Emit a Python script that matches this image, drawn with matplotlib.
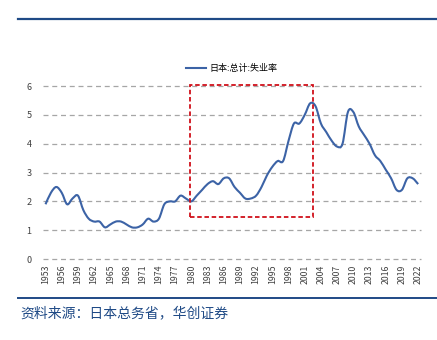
import numpy as np
import matplotlib.pyplot as plt
from matplotlib.path import Path
from matplotlib.patches import PathPatch, Rectangle
from matplotlib.lines import Line2D

plt.rcParams['font.family'] = ['Noto Sans CJK SC', 'DejaVu Sans']

years = list(range(1953, 2023))
rate = [1.9, 2.3, 2.5, 2.3, 1.9, 2.1, 2.2, 1.7, 1.4, 1.3,
        1.3, 1.1, 1.2, 1.3, 1.3, 1.2, 1.1, 1.1, 1.2, 1.4,
        1.3, 1.4, 1.9, 2.0, 2.0, 2.2, 2.1, 2.0, 2.2, 2.4,
        2.6, 2.7, 2.6, 2.8, 2.8, 2.5, 2.3, 2.1, 2.1, 2.2,
        2.5, 2.9, 3.2, 3.4, 3.4, 4.1, 4.7, 4.7, 5.0, 5.4,
        5.3, 4.7, 4.4, 4.1, 3.9, 4.0, 5.1, 5.1, 4.6, 4.3,
        4.0, 3.6, 3.4, 3.1, 2.8, 2.4, 2.4, 2.8, 2.8, 2.6]
tick_years = years[::3]
box_years = (1980, 2002)
box_range = (1.45, 6.05)
series_name = '日本:总计:失业率'
source = '资料来源：日本总务省，华创证券'

blue = '#3c63a6'
navy = '#1f4a86'

fig = plt.figure(figsize=(4.37, 3.40), dpi=100)
ax = fig.add_axes([0.098, 0.238, 0.865, 0.509])

# smoothed line like Excel (cubic bezier through points)
x = np.arange(len(rate), dtype=float)
y = np.array(rate)
verts = [(x[0], y[0])]
codes = [Path.MOVETO]
n = len(x)
for i in range(n - 1):
    x0, y0 = (x[i - 1], y[i - 1]) if i > 0 else (x[i], y[i])
    x3, y3 = (x[i + 2], y[i + 2]) if i + 2 < n else (x[i + 1], y[i + 1])
    c1 = (x[i] + (x[i + 1] - x0) / 6, y[i] + (y[i + 1] - y0) / 6)
    c2 = (x[i + 1] - (x3 - x[i]) / 6, y[i + 1] - (y3 - y[i]) / 6)
    verts += [c1, c2, (x[i + 1], y[i + 1])]
    codes += [Path.CURVE4] * 3
ax.add_patch(PathPatch(Path(verts, codes), facecolor='none', edgecolor=blue, lw=1.5, zorder=3))

for v in range(0, 7):
    ax.axhline(v, color='#a6a6a6', lw=0.9, ls=(0, (4, 3)), zorder=1, clip_on=False)

bx0 = years.index(box_years[0]) - 0.25
bx1 = years.index(box_years[1]) + 0.6
ax.add_patch(Rectangle((bx0, box_range[0]), bx1 - bx0, box_range[1] - box_range[0],
                       fill=False, edgecolor='#d0101a', lw=1.3, ls=(0, (2.5, 1.5)),
                       zorder=4, clip_on=False))

ax.set_xlim(-0.5, n - 0.5)
ax.set_ylim(0, 6)
ax.set_yticks(range(0, 7))
ax.set_xticks([years.index(t) for t in tick_years])
ax.set_xticklabels([str(t) for t in tick_years], rotation=90, fontsize=6.3, color='#404040')
ax.tick_params(axis='y', labelsize=6.5, colors='#404040', length=0, pad=8)
ax.tick_params(axis='x', length=0, pad=4)
for s in ax.spines.values():
    s.set_visible(False)

ax.legend(handles=[Line2D([], [], color=blue, lw=1.5)], labels=[series_name],
          loc='lower center', bbox_to_anchor=(0.5, 1.055), frameon=False,
          fontsize=6.5, handlelength=2.2, handletextpad=0.4, borderaxespad=0)

fig.add_artist(Line2D([18 / 437, 1], [1 - 19 / 340] * 2, color=navy, lw=1.6))
fig.add_artist(Line2D([18 / 437, 1], [1 - 298 / 340] * 2, color=navy, lw=1.4))
fig.text(20 / 437, 1 - 313 / 340, source, color=navy, fontsize=10, style='italic',
         va='center', ha='left')

fig.savefig('out.png', dpi=100)
